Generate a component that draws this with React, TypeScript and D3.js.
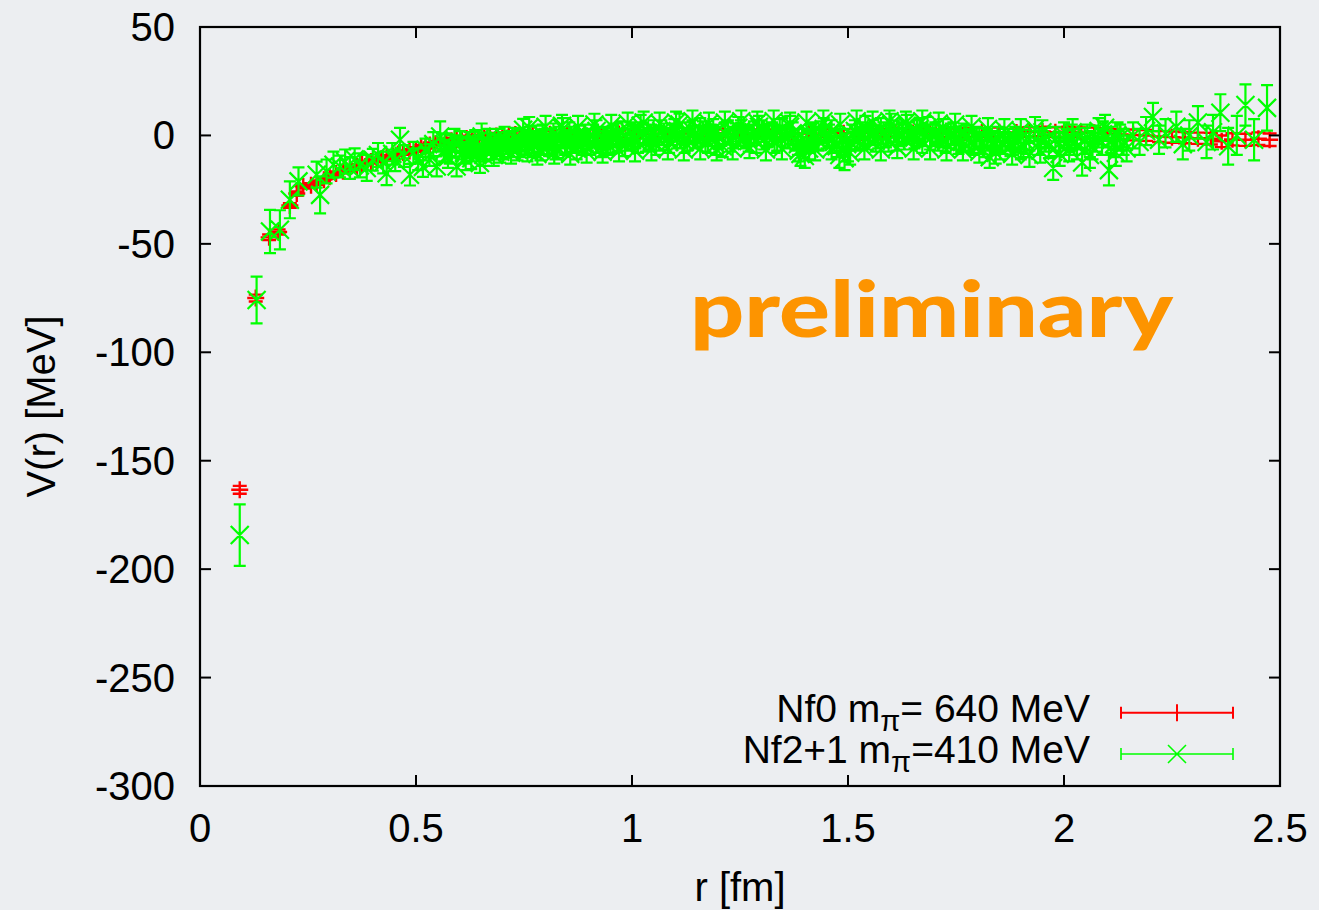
import React from "react";
import * as d3 from "d3";

// [r (fm), V (MeV), error (MeV)]
const nf0Data: [number, number, number][] = [
  [0.092, -163.4, 1.8], [0.129, -75, 1.6], [0.16, -47, 1.3], [0.182, -44.5, 1.2],
  [0.208, -32.3, 1.1], [0.224, -26.8, 1], [0.239, -23.5, 1], [0.257, -23, 1],
  [0.27, -21.8, 1], [0.287, -20.4, 1], [0.3, -19, 1], [0.315, -17.6, 1],
  [0.331, -16.5, 1], [0.347, -15.4, 1], [0.363, -14.3, 1], [0.375, -13.4, 1],
  [0.386, -12.7, 1], [0.396, -12, 1], [0.409, -11.4, 1], [0.42, -10.7, 1],
  [0.432, -10.1, 1], [0.447, -9.5, 1], [0.458, -8.6, 1], [0.47, -7.9, 1],
  [0.485, -7.2, 1], [0.5, -6.5, 1.1], [0.512, -5.6, 1.1], [0.522, -5, 1.1],
  [0.532, -4.4, 1.2], [0.545, -3.8, 1.2], [0.558, -3.2, 1.2], [0.57, -2.8, 1.2],
  [0.582, -2.4, 1.2], [0.594, -2, 1.2], [0.606, -1.8, 1.3], [0.617, -1.4, 1.3],
  [0.63, -1.2, 1.3], [0.645, -1, 1.3], [0.658, -0.8, 1.3], [0.671, -0.6, 1.3],
  [0.686, -0.3, 1.4], [0.7, 0, 1.4], [0.715, 0.2, 1.4], [0.73, 0.4, 1.4],
  [0.77, 0.3, 1.5], [0.81, 0.5, 1.5], [0.85, 0.2, 1.5], [0.89, 0.6, 1.5],
  [0.93, 0.4, 1.5], [0.97, 0.7, 1.6], [1.01, 0.5, 1.6], [1.05, 0.8, 1.6],
  [1.09, 0.6, 1.6], [1.13, 0.9, 1.7], [1.17, 0.7, 1.7], [1.21, 1, 1.7],
  [1.25, 0.8, 1.7], [1.29, 1, 1.8], [1.33, 0.9, 1.8], [1.37, 1.1, 1.8],
  [1.41, 0.9, 1.8], [1.45, 1.2, 1.9], [1.49, 1, 1.9], [1.53, 1.2, 1.9],
  [1.57, 1.1, 1.9], [1.61, 1.3, 2], [1.65, 1.1, 2], [1.69, 1.3, 2],
  [1.73, 1.2, 2], [1.77, 1.4, 2.1], [1.81, 1.3, 2.1], [1.85, 1.5, 2.1],
  [1.89, 1.4, 2.2], [1.92, 1.6, 2.2], [1.95, 1.8, 2.2], [1.98, 1.5, 2.3],
  [2.01, 1.7, 2.3], [2.04, 1.4, 2.3], [2.07, 1.2, 2.4], [2.1, 0.8, 2.4],
  [2.13, 0.5, 2.4], [2.16, 0.2, 2.5], [2.19, 0, 2.5], [2.22, -0.5, 2.5],
  [2.25, -0.8, 2.6], [2.28, -1, 2.6], [2.31, -1.3, 2.6], [2.34, -1.5, 2.7],
  [2.365, -2.7, 2.7], [2.39, -1.8, 2.8], [2.42, -2, 2.8], [2.45, -1.5, 2.9],
  [2.476, -2, 2.9],
];

const nf21Data: [number, number, number][] = [
  [0.092, -184.3, 14.2], [0.131, -75.9, 10.8], [0.162, -44.3, 10], [0.185, -43.5, 9],
  [0.208, -29.7, 8.5], [0.228, -21.2, 6.5], [0.27, -18.1, 6], [0.278, -27.4, 8.5],
  [0.293, -16.6, 5.5], [0.309, -13.5, 6], [0.324, -14.3, 5], [0.336, -12, 5.5],
  [0.347, -15, 5], [0.358, -11, 5], [0.37, -13.8, 5.5], [0.386, -15, 6],
  [0.4, -11.2, 5], [0.412, -9, 5.5], [0.424, -12.5, 5], [0.432, -17.4, 5.5],
  [0.445, -8.5, 5], [0.452, -11.5, 5], [0.463, -2, 5.5], [0.472, -9.5, 5],
  [0.486, -18.1, 5], [0.494, -8, 5], [0.505, -11, 5], [0.516, -14.5, 4.6],
  [0.522, -6.5, 5], [0.531, -9, 5], [0.54, -4, 5.5], [0.548, -14.3, 4.6],
  [0.556, -0.5, 7], [0.565, -7, 5], [0.574, -10, 5], [0.583, -5, 5],
  [0.594, -14.3, 4.6], [0.602, -3, 5], [0.611, -8, 5], [0.62, -5.5, 5],
  [0.628, -10.5, 5], [0.637, -2.5, 5], [0.648, -12.7, 4.6], [0.652, -0.5, 6],
  [0.661, -7, 5], [0.67, -4, 5], [0.68, -9, 5], [0.69, -2, 5],
  [0.7, -6, 5], [0.71, -3.5, 5], [0.72, -8, 5], [0.73, -1.5, 5],
  [0.74, -5, 5], [0.748, 2.6, 5], [0.758, -7, 5], [0.768, -3, 5],
  [0.778, -0.5, 5], [0.788, -6.5, 5], [0.798, -2, 5], [0.808, -4.5, 5],
  [0.818, 0.5, 5], [0.828, -5.5, 5], [0.84, 3, 5], [0.85, -3, 5],
  [0.86, -1, 5], [0.872, -6, 5], [0.882, -2.5, 5], [0.892, 0, 5],
  [0.904, -4, 5], [0.918, 2, 5], [0.928, -5, 5], [0.938, -1.5, 5],
  [0.95, -3, 5], [0.962, 0.5, 5], [0.972, -2, 5], [0.984, -4.5, 5],
  [0.996, 1, 5], [1.008, -1, 5], [1.02, 4.5, 5], [1.032, -2.5, 5],
  [1.044, 0, 5], [1.056, -4, 5], [1.068, 2, 5], [1.08, -1.5, 5],
  [1.092, 0.5, 5], [1.11, 5, 5], [1.122, -3, 5], [1.134, 1, 5],
  [1.146, -1, 5], [1.158, 3, 5], [1.17, -2.5, 5], [1.182, 0, 5],
  [1.194, -4, 5], [1.21, -5, 5], [1.222, 2, 5], [1.234, -1, 5],
  [1.246, 3.5, 5], [1.258, 0, 5], [1.27, -2.5, 5], [1.282, 1.5, 5],
  [1.294, 4, 5], [1.306, -1.5, 5], [1.318, 0.5, 5], [1.33, -3, 5],
  [1.342, 2.5, 5], [1.354, -0.5, 5], [1.366, 4, 5], [1.378, -2, 5],
  [1.39, -8.5, 5.5], [1.4, -9.5, 5.5], [1.41, -6, 5], [1.42, 1, 5],
  [1.432, -2, 5], [1.444, 3, 5], [1.456, 0, 5], [1.468, -3, 5],
  [1.48, -9, 6], [1.492, -10.5, 5.5], [1.505, -8, 5.5], [1.516, 2, 5],
  [1.528, -1, 5], [1.54, 4, 5], [1.552, 0.5, 5], [1.564, -2.5, 5],
  [1.576, 3, 5], [1.588, -0.5, 5], [1.6, 5, 5], [1.612, -2, 5],
  [1.624, 1, 5], [1.636, 4.5, 5], [1.648, -1.5, 5], [1.66, 2, 5],
  [1.672, -3, 5], [1.684, 3.5, 5], [1.696, 0, 5], [1.708, -2, 5],
  [1.72, 2.5, 5], [1.732, -1, 5], [1.744, 1, 5], [1.756, -3.5, 5],
  [1.768, 0.5, 5], [1.78, -2, 5], [1.792, -4, 5], [1.804, -1.5, 5],
  [1.816, -5, 5], [1.828, -10, 5], [1.84, -3, 5], [1.852, -6, 5],
  [1.864, -2, 5], [1.876, -4.5, 5], [1.888, -1, 5], [1.9, -5.5, 5.5],
  [1.912, -3, 5.5], [1.933, 3, 5.5], [1.945, -7, 5.5], [1.957, -2, 5.5],
  [1.975, -15, 5.5], [1.988, -4, 5.5], [2.0, 0, 6], [2.012, -6, 6],
  [2.024, -3, 6], [2.042, -12.5, 6], [2.054, -1, 6], [2.066, -5, 6],
  [2.08, 2, 6], [2.095, 3.5, 6], [2.104, -16, 7], [2.116, -4, 6],
  [2.13, -1, 6], [2.145, -6, 6], [2.16, 0, 6], [2.175, -3, 6],
  [2.19, 2, 6.5], [2.206, 8.5, 6.5], [2.22, -2, 6.5], [2.235, 1, 6.5],
  [2.26, 4, 7], [2.275, -4, 7], [2.29, 0, 7], [2.31, 6, 7.5],
  [2.33, -3, 7.5], [2.345, 1.5, 8], [2.362, 10.5, 8.5], [2.38, -5, 8.5],
  [2.4, 0, 9], [2.42, 14, 9.5], [2.44, -2, 9.5], [2.47, 12.7, 10.5],
  // further points of the same series in the dense band
  [0.566, -4, 5], [0.578, -8, 5], [0.589, -2, 5], [0.606, -6, 5],
  [0.615, -11, 5], [0.624, -3.5, 5], [0.633, -7, 5], [0.643, -5, 5],
  [0.656, -9, 5], [0.665, -2, 5], [0.675, -6, 5], [0.685, -4.5, 5],
  [0.695, -7.5, 5], [0.705, -1, 5], [0.715, -5, 5], [0.725, -3, 5],
  [0.735, -6.5, 5], [0.745, -2.5, 5], [0.753, -4, 5], [0.763, -1, 5],
  [0.773, -5, 5], [0.783, -3, 5], [0.793, 0, 5], [0.803, -4, 5],
  [0.813, -2, 5], [0.823, -6, 5], [0.834, -1, 5], [0.845, -4, 5],
  [0.855, 1, 5], [0.866, -3, 5], [0.877, -0.5, 5], [0.887, -4, 5],
  [0.898, -2, 5], [0.91, 0, 5], [0.922, -3, 5], [0.933, -1, 5],
  [0.944, -4, 5], [0.956, -0.5, 5], [0.967, -2.5, 5], [0.978, 1.5, 5],
  [0.99, -2, 5], [1.002, 0, 5], [1.014, -3, 5], [1.026, 1, 5],
  [1.038, -1.5, 5], [1.05, 2, 5], [1.062, -2, 5], [1.074, 0.5, 5],
  [1.086, -3, 5], [1.098, 2.5, 5], [1.104, -1, 5], [1.116, 1, 5],
  [1.128, -2, 5], [1.14, 2, 5], [1.152, -0.5, 5], [1.164, 1.5, 5],
  [1.176, -3, 5], [1.188, 2.5, 5], [1.2, -1, 5], [1.216, 1, 5],
  [1.228, -2.5, 5], [1.24, 0.5, 5], [1.252, 2, 5], [1.264, -1, 5],
  [1.276, 0, 5], [1.288, -3, 5], [1.3, 2, 5], [1.312, -0.5, 5],
  [1.324, 1, 5], [1.336, -2, 5], [1.348, 3, 5], [1.36, -1, 5],
  [1.372, 1, 5], [1.384, -4, 5], [1.395, -2, 5], [1.405, -3, 5],
  [1.415, 0, 5], [1.426, -1.5, 5], [1.438, 1.5, 5], [1.45, -1, 5],
  [1.462, 2, 5], [1.474, -5, 5], [1.486, -2, 5], [1.498, -4, 5],
  [1.51, 0, 5], [1.522, -2, 5], [1.534, 1, 5], [1.546, -1.5, 5],
  [1.558, 2, 5], [1.57, -1, 5], [1.582, 1, 5], [1.594, -2.5, 5],
  [1.606, 2, 5], [1.618, 0, 5], [1.63, -1.5, 5], [1.642, 1, 5],
  [1.654, -1, 5], [1.666, 3, 5], [1.678, 0, 5], [1.69, -1.5, 5],
  [1.702, 1, 5], [1.714, -0.5, 5], [1.726, -3, 5], [1.738, 0.5, 5],
  [1.75, -1.5, 5], [1.762, -2.5, 5], [1.774, -0.5, 5], [1.786, -3, 5],
  [1.798, -1, 5], [1.81, -3.5, 5], [1.822, -2, 5], [1.834, -4, 5],
  [1.846, -1, 5], [1.858, -3.5, 5], [1.87, -2, 5], [1.882, -4, 5],
  [1.894, -2.5, 5], [1.906, -4.5, 5.5], [1.92, -1.5, 5.5], [1.94, -3.5, 5.5],
  [1.965, -5, 5.5], [1.98, -1.5, 5.5], [2.006, -3, 6], [2.018, -1, 6],
  [2.03, -5, 6], [2.048, -2.5, 6], [2.06, -4, 6], [2.072, -1.5, 6],
  [2.088, -3, 6], [2.11, -2, 6], [2.124, 0, 6], [2.138, -3, 6],
  // points at the upper and lower edges of the band
  [0.762, 3.5, 5], [0.781, -8.5, 5], [0.8, 4, 5], [0.82, -8, 5],
  [0.838, 4.5, 5], [0.857, -8.5, 5], [0.875, 4, 5], [0.895, -7.5, 5],
  [0.913, 5, 5], [0.932, -7.5, 5], [0.952, 4.5, 5], [0.97, -7, 5],
  [0.99, 5.5, 5], [1.007, -7, 5], [1.027, 6, 5], [1.045, -6.5, 5],
  [1.064, 5.5, 5], [1.083, -6, 5], [1.102, 6, 5], [1.12, -6.5, 5],
  [1.14, 6.5, 5], [1.158, -6, 5], [1.178, 5.5, 5], [1.196, -6.5, 5],
  [1.215, 6, 5], [1.233, -6, 5], [1.253, 6.5, 5], [1.272, -5.5, 5],
  [1.29, 6, 5], [1.31, -6.5, 5], [1.328, 6.5, 5], [1.347, -6, 5],
  [1.366, 5.5, 5], [1.386, -7, 5], [1.404, 6, 5], [1.424, -6.5, 5],
  [1.443, 6.5, 5], [1.462, -6, 5], [1.482, 5, 5], [1.5, -7, 5],
  [1.52, 6.5, 5], [1.538, -6, 5], [1.557, 6, 5], [1.576, -6.5, 5],
  [1.596, 6.5, 5], [1.614, -5.5, 5], [1.634, 6, 5], [1.652, -6, 5],
  [1.672, 6.5, 5], [1.69, -6, 5], [1.71, 5.5, 5], [1.728, -6.5, 5],
  [1.748, 5, 5], [1.766, -6.5, 5], [1.786, 4, 5], [1.804, -7.5, 5],
  [1.824, 3, 5], [1.842, -8, 5], [1.862, 2.5, 5], [1.88, -8.5, 5],
  [1.9, 2, 5.5], [1.92, -9, 5.5], [1.95, 1.5, 5.5], [1.99, -8.5, 5.5],
  [2.02, 1.5, 6], [2.06, -9, 6], [2.09, 0.5, 6], [2.12, -8, 6],
];

const xTicks = [0, 0.5, 1, 1.5, 2, 2.5];
const xTickLabels = ["0", "0.5", "1", "1.5", "2", "2.5"];
const yTicks = [-300, -250, -200, -150, -100, -50, 0, 50];
const yTickLabels = ["-300", "-250", "-200", "-150", "-100", "-50", "0", "50"];

const RED = "#ff0000";
const GREEN = "#00ff00";
const FONT = "'Liberation Sans', Arial, Helvetica, sans-serif";

export default function App() {
  const W = 1319, H = 910;
  const L = 200, R = 1280, T = 27, B = 786;
  const x = d3.scaleLinear().domain([0, 2.5]).range([L, R]);
  const y = d3.scaleLinear().domain([-300, 50]).range([B, T]);
  const tickLen = 11;

  const plusPath = (cx: number, cy: number, s: number) =>
    `M${cx - s},${cy}H${cx + s}M${cx},${cy - s}V${cy + s}`;
  const crossPath = (cx: number, cy: number, s: number) =>
    `M${cx - s},${cy - s}L${cx + s},${cy + s}M${cx - s},${cy + s}L${cx + s},${cy - s}`;
  const errPath = (cx: number, v: number, e: number, cap: number) => {
    const y1 = y(v - e), y2 = y(v + e);
    return `M${cx},${y1}V${y2}M${cx - cap},${y1}H${cx + cap}M${cx - cap},${y2}H${cx + cap}`;
  };

  const redPath = nf0Data
    .map(([r, v, e]) => errPath(x(r), v, e, 7) + plusPath(x(r), y(v), 8.5))
    .join("");
  const greenPath = nf21Data
    .map(([r, v, e]) => errPath(x(r), v, e, 6) + crossPath(x(r), y(v), 9))
    .join("");

  const legX1 = 1121, legX2 = 1233, legXm = 1177;
  const leg1 = 712.7, leg2 = 754;

  return (
    <svg
      width={W}
      height={H}
      style={{ position: "absolute", left: 0, top: 0 }}
      fontFamily={FONT}
    >
      <rect x={0} y={0} width={W} height={H} fill="#eceef1" />

      {/* data */}
      <path d={redPath} stroke={RED} strokeWidth={2.4} fill="none" />
      <path d={greenPath} stroke={GREEN} strokeWidth={2.2} fill="none" />

      {/* frame */}
      <rect x={L} y={T} width={R - L} height={B - T} fill="none" stroke="#000" strokeWidth={2.2} />
      {xTicks.slice(1, -1).map((t) => (
        <g key={"xt" + t}>
          <line x1={x(t)} x2={x(t)} y1={B} y2={B - tickLen} stroke="#000" strokeWidth={2} />
          <line x1={x(t)} x2={x(t)} y1={T} y2={T + tickLen} stroke="#000" strokeWidth={2} />
        </g>
      ))}
      {yTicks.slice(1, -1).map((t) => (
        <g key={"yt" + t}>
          <line x1={L} x2={L + tickLen} y1={y(t)} y2={y(t)} stroke="#000" strokeWidth={2} />
          <line x1={R} x2={R - tickLen} y1={y(t)} y2={y(t)} stroke="#000" strokeWidth={2} />
        </g>
      ))}

      {/* tick labels */}
      {xTicks.map((t, i) => (
        <text key={"xl" + t} x={x(t)} y={842} textAnchor="middle" fontSize={40} fill="#000">
          {xTickLabels[i]}
        </text>
      ))}
      {yTicks.map((t, i) => (
        <text key={"yl" + t} x={175} y={y(t) + 14} textAnchor="end" fontSize={40} fill="#000">
          {yTickLabels[i]}
        </text>
      ))}

      {/* axis titles */}
      <text x={(L + R) / 2} y={901} textAnchor="middle" fontSize={40} fill="#000">
        r [fm]
      </text>
      <text
        transform={`translate(55,${(T + B) / 2}) rotate(-90)`}
        textAnchor="middle"
        fontSize={40}
        fill="#000"
      >
        V(r) [MeV]
      </text>

      {/* legend */}
      <text x={1090} y={722} textAnchor="end" fontSize={39} fill="#000">
        Nf0 m<tspan dy={9} fontSize={29}>π</tspan>
        <tspan dy={-9}>= 640 MeV</tspan>
      </text>
      <text x={1090} y={763} textAnchor="end" fontSize={39} fill="#000">
        Nf2+1 m<tspan dy={9} fontSize={29}>π</tspan>
        <tspan dy={-9}>=410 MeV</tspan>
      </text>
      <path
        d={`M${legX1},${leg1}H${legX2}M${legX1},${leg1 - 6}V${leg1 + 6}M${legX2},${leg1 - 6}V${leg1 + 6}` +
          plusPath(legXm, leg1, 8.5)}
        stroke={RED}
        strokeWidth={2}
        fill="none"
      />
      <path
        d={`M${legX1},${leg2}H${legX2}M${legX1},${leg2 - 6}V${leg2 + 6}M${legX2},${leg2 - 6}V${leg2 + 6}` +
          crossPath(legXm, leg2, 9)}
        stroke={GREEN}
        strokeWidth={1.6}
        fill="none"
      />

      {/* watermark */}
      <text
        x={690}
        y={337}
        fontSize={78}
        fontWeight={900}
        fontFamily="Lato, 'Open Sans', sans-serif"
        fill="#fd9400"
        textLength={483}
        lengthAdjust="spacingAndGlyphs"
      >
        preliminary
      </text>
    </svg>
  );
}
